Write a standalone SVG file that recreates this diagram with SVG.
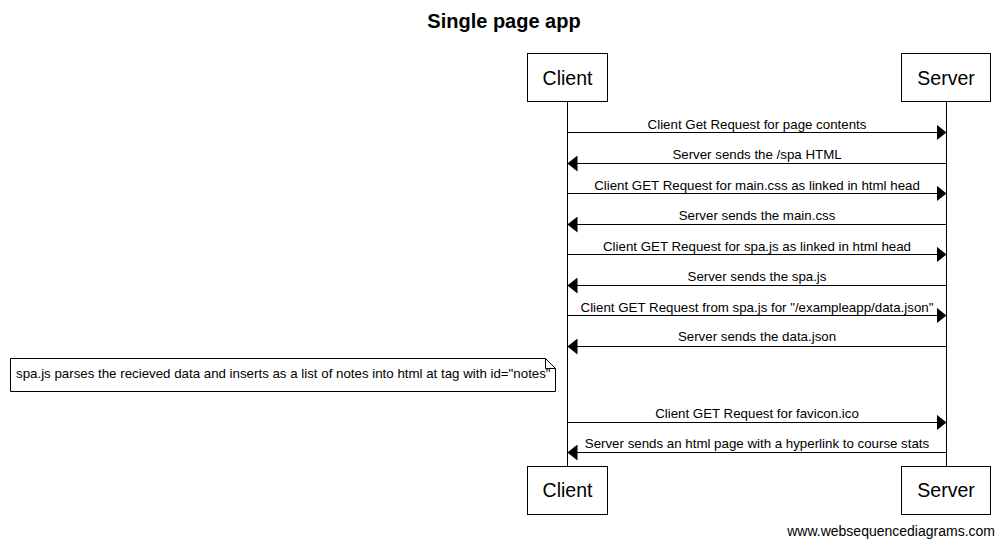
<svg xmlns="http://www.w3.org/2000/svg" width="1005" height="549" viewBox="0 0 1005 549">
<style>
.box{fill:#fff;stroke:#000;stroke-width:1}
.life{stroke:#000;stroke-width:1}
.msg{stroke:#000;stroke-width:1;fill:none}
.pt{font-family:"Liberation Sans",Arial,sans-serif;font-size:19.5px;text-anchor:middle;fill:#000}
.lbl{font-family:"Liberation Sans",Arial,sans-serif;font-size:13.3px;text-anchor:middle;fill:#000}
.note{font-family:"Liberation Sans",Arial,sans-serif;font-size:13.3px;fill:#000}
</style>
<defs>
<marker id="ah" viewBox="0 0 10 16" refX="10" refY="8" markerWidth="10" markerHeight="16" markerUnits="userSpaceOnUse" orient="auto">
<path d="M0,0 L10,8 L0,16 Z" fill="#000"/>
</marker>
</defs>
<rect width="1005" height="549" fill="#fff"/>
<text x="504" y="28" font-family="'Liberation Sans',Arial,sans-serif" font-size="20" font-weight="bold" text-anchor="middle">Single page app</text>
<g id="lifelines">
<line class="life" x1="567.5" y1="102" x2="567.5" y2="466"/>
<line class="life" x1="946.5" y1="102" x2="946.5" y2="466"/>
</g>
<g id="client-top"><rect class="box" x="527.5" y="53.5" width="80" height="48"/><text class="pt" x="567.5" y="85">Client</text></g>
<g id="server-top"><rect class="box" x="901.5" y="53.5" width="89" height="48"/><text class="pt" x="946" y="85">Server</text></g>
<g id="client-bottom"><rect class="box" x="527.5" y="466.5" width="80" height="48"/><text class="pt" x="567.5" y="497">Client</text></g>
<g id="server-bottom"><rect class="box" x="901.5" y="466.5" width="89" height="48"/><text class="pt" x="946" y="497">Server</text></g>
<g id="connectors">
<line class="msg" x1="567.5" y1="132.5" x2="946.5" y2="132.5" marker-end="url(#ah)"/>
<text class="lbl" x="757" y="129">Client Get Request for page contents</text>
<line class="msg" x1="946.5" y1="163.5" x2="567.5" y2="163.5" marker-end="url(#ah)"/>
<text class="lbl" x="757" y="159">Server sends the /spa HTML</text>
<line class="msg" x1="567.5" y1="193.5" x2="946.5" y2="193.5" marker-end="url(#ah)"/>
<text class="lbl" x="757" y="190">Client GET Request for main.css as linked in html head</text>
<line class="msg" x1="946.5" y1="224.5" x2="567.5" y2="224.5" marker-end="url(#ah)"/>
<text class="lbl" x="757" y="220">Server sends the main.css</text>
<line class="msg" x1="567.5" y1="254.5" x2="946.5" y2="254.5" marker-end="url(#ah)"/>
<text class="lbl" x="757" y="251">Client GET Request for spa.js as linked in html head</text>
<line class="msg" x1="946.5" y1="285.5" x2="567.5" y2="285.5" marker-end="url(#ah)"/>
<text class="lbl" x="757" y="281">Server sends the spa.js</text>
<line class="msg" x1="567.5" y1="315.5" x2="946.5" y2="315.5" marker-end="url(#ah)"/>
<text class="lbl" x="757" y="312">Client GET Request from spa.js for "/exampleapp/data.json"</text>
<line class="msg" x1="946.5" y1="346.5" x2="567.5" y2="346.5" marker-end="url(#ah)"/>
<text class="lbl" x="757" y="341">Server sends the data.json</text>
<line class="msg" x1="567.5" y1="422.5" x2="946.5" y2="422.5" marker-end="url(#ah)"/>
<text class="lbl" x="757" y="418">Client GET Request for favicon.ico</text>
<line class="msg" x1="946.5" y1="452.5" x2="567.5" y2="452.5" marker-end="url(#ah)"/>
<text class="lbl" x="757" y="448">Server sends an html page with a hyperlink to course stats</text>
</g>
<g id="note">
<path d="M10.5,358.5 H545.5 L555.5,368.5 V391.5 H10.5 Z M545.5,358.5 V368.5 H555.5" fill="#fff" stroke="#000" stroke-width="1"/>
<text class="note" x="16" y="378">spa.js parses the recieved data and inserts as a list of notes into html at tag with id="notes"</text>
</g>
<text x="995" y="536" font-family="'Liberation Sans',Arial,sans-serif" font-size="14" text-anchor="end">www.websequencediagrams.com</text>
</svg>
